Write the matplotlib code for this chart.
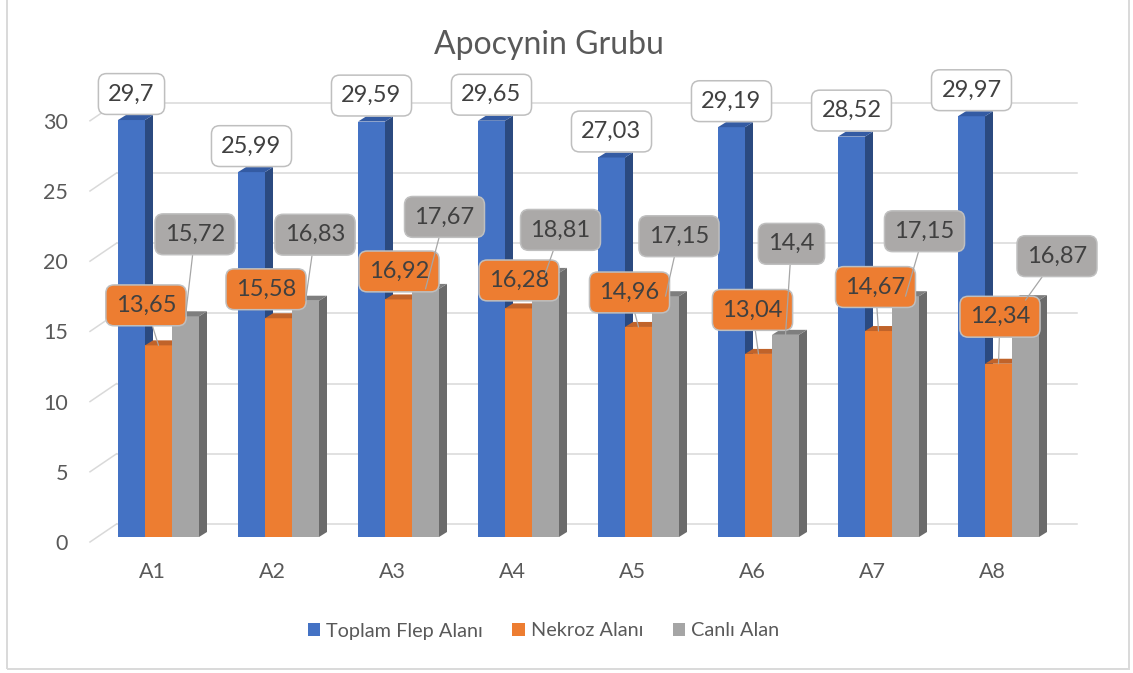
import matplotlib
matplotlib.use("Agg")
import matplotlib.pyplot as plt
from matplotlib.patches import Polygon, Rectangle, Patch
from matplotlib.transforms import ScaledTranslation

plt.rcParams["font.family"] = ["Lato", "DejaVu Sans"]

categories = ["A1", "A2", "A3", "A4", "A5", "A6", "A7", "A8"]
toplam = [29.7, 25.99, 29.59, 29.65, 27.03, 29.19, 28.52, 29.97]
nekroz = [13.65, 15.58, 16.92, 16.28, 14.96, 13.04, 14.67, 12.34]
canli = [15.72, 16.83, 17.67, 18.81, 17.15, 14.4, 17.15, 16.87]
series_names = ["Toplam Flep Alanı", "Nekroz Alanı", "Canlı Alan"]
yticks = [0, 5, 10, 15, 20, 25, 30]

# pixel layout (figure is 1133x673 at 100 dpi)
W, H = 1133, 673
face_col = ["#4472C4", "#ED7D31", "#A5A5A5"]
side_col = ["#2B4A80", "#A9561F", "#6B6B6B"]
top_col = ["#345BA3", "#C0632A", "#7E7E7E"]
box_col = ["white", "#ED7D31", "#ABA9A8"]
txt_col = "#595959"

# label offsets from bar top (pixels)
orange_off = [(-12.5, 40), (-12.5, 29), (0.5, 28), (0.5, 28), (-9, 34.5), (-6, 44), (-3, 44), (1.5, 47)]
gray_off = [(9.5, 82), (9.5, 66), (19, 72), (15, 43), (13.5, 60), (6, 91), (19, 65), (31.5, 44)]
blue_off = [(0, 26)] * len(categories)

fig = plt.figure(figsize=(W / 100, H / 100), dpi=100)
ax = fig.add_axes([98.5 / W, (H - 537) / H, 960 / W, 421.2 / H])
ax.set_xlim(-0.5, len(categories) - 0.5)
ax.set_ylim(0, 30)
ux = 960 / len(categories)   # px per category
uy = 421.2 / 30              # px per unit

for s in ax.spines.values():
    s.set_visible(False)

# back wall gridlines + floor diagonals
bx, by = 18 / ux, 13 / uy
for v in yticks:
    ax.plot([-0.5 + bx, len(categories) - 0.5 + bx], [v + by, v + by],
            color="#D9D9D9", lw=1.1, clip_on=False, zorder=0)
    ax.plot([-0.5 - 8.5 / ux, -0.5 + bx], [v - 5 / uy, v + by],
            color="#D9D9D9", lw=1.1, clip_on=False, zorder=0)

bw = 27 / ux
dx, dy = 8 / ux, 5 / uy
all_series = [toplam, nekroz, canli]
offsets = [blue_off, orange_off, gray_off]

for k, vals in enumerate(all_series):
    xs = [i + (k - 1) * bw for i in range(len(categories))]
    ax.bar(xs, vals, width=bw, color=face_col[k], zorder=2 + k, label=series_names[k])
    for x, v in zip(xs, vals):
        x0, x1 = x - bw / 2, x + bw / 2
        ax.add_patch(Polygon([(x1, 0), (x1 + dx, dy), (x1 + dx, v + dy), (x1, v)],
                             closed=True, fc=side_col[k], ec="none", zorder=2 + k, clip_on=False))
        ax.add_patch(Polygon([(x0, v), (x0 + dx, v + dy), (x1 + dx, v + dy), (x1, v)],
                             closed=True, fc=top_col[k], ec="none", zorder=2 + k, clip_on=False))

# data labels
for k, vals in enumerate(all_series):
    xs = [i + (k - 1) * bw for i in range(len(categories))]
    for x, v, (ox, oy) in zip(xs, vals, offsets[k]):
        lead = dict(arrowstyle="-", color="#A6A6A6", lw=0.9, shrinkA=0, shrinkB=0) if (k > 0 and oy > 30) else None
        ax.annotate(f"{v:g}".replace(".", ","), xy=(x, v), xytext=(ox * 0.72, oy * 0.72),
                    textcoords="offset points", ha="center", va="center",
                    fontsize=17, color="#404040", zorder=10 + k,
                    bbox=dict(boxstyle="round,pad=0.42,rounding_size=0.35",
                              fc=box_col[k], ec="#BFBFBF", lw=1.1),
                    arrowprops=lead, annotation_clip=False)

ax.set_xticks(range(len(categories)))
ax.set_xticklabels(categories)
ax.set_yticks(yticks)
ax.set_yticklabels([str(t) for t in yticks])
ax.tick_params(axis="both", length=0, labelsize=15.5, labelcolor=txt_col)
ax.tick_params(axis="x", pad=18)
ax.tick_params(axis="y", pad=22)
for t in ax.xaxis.get_major_ticks():
    t.label1.set_transform(t.label1.get_transform() + ScaledTranslation(-6.5 / 100, 0, fig.dpi_scale_trans))
for t in ax.yaxis.get_major_ticks():
    t.label1.set_transform(t.label1.get_transform() + ScaledTranslation(0, -5 / 100, fig.dpi_scale_trans))

fig.text(548.5 / W, (H - 54) / H, "Apocynin Grubu", ha="center", va="baseline",
         fontsize=23, color=txt_col)

handles = [Patch(facecolor=c, edgecolor="none") for c in face_col]
fig.legend(handles, series_names, loc="center", bbox_to_anchor=(543.5 / W, (H - 631) / H),
           ncol=3, frameon=False, fontsize=14.3, labelcolor=txt_col,
           handlelength=0.62, handleheight=0.62, handletextpad=0.3, columnspacing=1.5)

fig.patches.append(Rectangle((7 / W, 4 / H), 1122 / W, 1.0, transform=fig.transFigure,
                             fill=False, ec="#D9D9D9", lw=1.4))

fig.savefig("out.png", dpi=100)
